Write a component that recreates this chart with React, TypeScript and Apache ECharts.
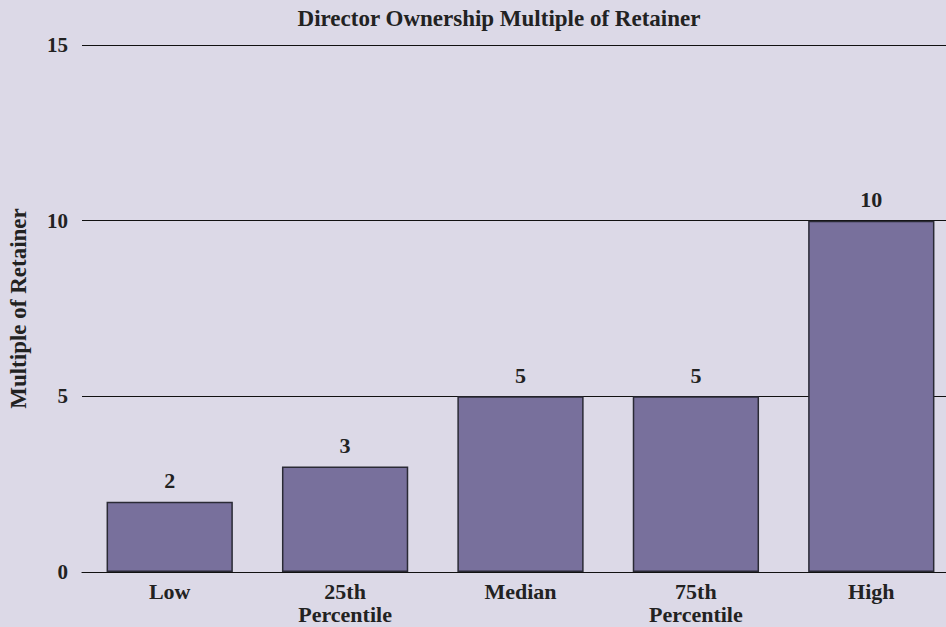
import React, { useEffect, useRef } from "react";
import * as echarts from "echarts";

const categories = ["Low", "25th\nPercentile", "Median", "75th\nPercentile", "High"];
const values = [2, 3, 5, 5, 10];
const yTicks = [0, 5, 10, 15];

const FONT = "'Liberation Serif', 'DejaVu Serif', serif";
const INK = "#222";

export default function App() {
  const ref = useRef<HTMLDivElement>(null);

  useEffect(() => {
    if (!ref.current) return;
    const chart = echarts.init(ref.current, undefined, { renderer: "svg" });
    chart.setOption({
      animation: false,
      backgroundColor: "#dcd9e7",
      title: {
        text: "Director Ownership Multiple of Retainer",
        left: 494,
        textAlign: "center",
        top: 2,
        textStyle: { fontFamily: FONT, fontWeight: "bold", fontSize: 23, color: INK },
      },
      grid: {
        left: 82,
        right: -13,
        top: 45,
        bottom: 55,
        containLabel: false,
        outerBoundsMode: "none",
      },
      xAxis: {
        type: "category",
        data: categories,
        axisLine: { show: true, lineStyle: { color: "#111", width: 1.2 } },
        axisTick: { show: false },
        axisLabel: {
          fontFamily: FONT,
          fontWeight: "bold",
          fontSize: 22,
          color: INK,
          margin: 8,
          lineHeight: 23,
        },
      },
      yAxis: {
        type: "value",
        min: yTicks[0],
        max: yTicks[yTicks.length - 1],
        interval: 5,
        name: "Multiple of Retainer",
        nameLocation: "middle",
        nameGap: 52,
        nameTextStyle: { fontFamily: FONT, fontWeight: "bold", fontSize: 23, color: INK },
        axisLine: { show: false },
        axisTick: { show: false },
        splitLine: { show: true, lineStyle: { color: "#111", width: 1.2 } },
        axisLabel: {
          fontFamily: FONT,
          fontWeight: "bold",
          fontSize: 21,
          color: INK,
          margin: 14,
        },
      },
      series: [
        {
          type: "bar",
          data: values,
          barWidth: "72%",
          itemStyle: { color: "#78709c", borderColor: "#2a2a35", borderWidth: 1.5 },
          label: {
            show: true,
            position: "top",
            distance: 10,
            fontFamily: FONT,
            fontWeight: "bold",
            fontSize: 22,
            color: INK,
          },
        },
      ],
    });
    return () => chart.dispose();
  }, []);

  return (
    <div
      ref={ref}
      style={{ position: "fixed", left: 0, top: 0, width: 946, height: 627 }}
    />
  );
}
